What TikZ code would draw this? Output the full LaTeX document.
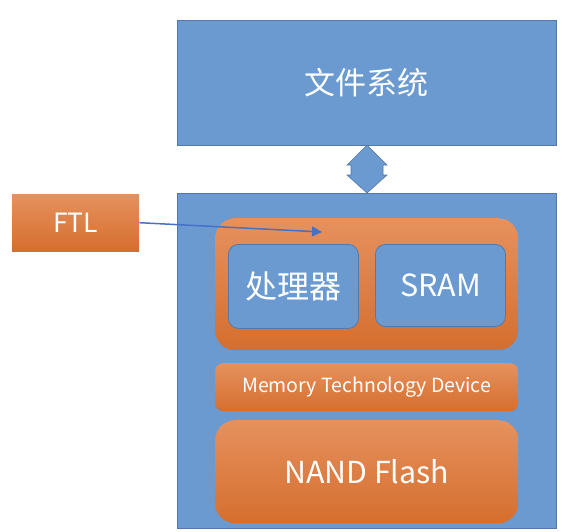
\documentclass[tikz,border=0pt]{standalone}
\usepackage{fontspec}
\setmainfont{Noto Sans CJK SC}
\usetikzlibrary{arrows.meta,shapes.arrows}
\definecolor{bluef}{HTML}{6A9AD0}
\definecolor{blued}{HTML}{5379AA}
\definecolor{orT}{HTML}{E6915E}
\definecolor{orB}{HTML}{D56E2E}
\definecolor{arrowc}{HTML}{4472C4}
\tikzset{
  bluebox/.style={draw=blued, fill=bluef, line width=0.8pt, text=white},
  orbox/.style={top color=orT, bottom color=orB, draw=none, text=white},
}
\begin{document}
\begin{tikzpicture}[x=1pt,y=-1pt]
\useasboundingbox (0,0) rectangle (570,532);
% top box
\node[bluebox, minimum width=379, minimum height=125, anchor=north west, font=\fontsize{31}{34}\selectfont] (fs) at (177,20) {文件系统};
% bottom box
\node[bluebox, minimum width=379, minimum height=335, anchor=north west] (dev) at (177,193) {};
% double arrow
\draw[blued, fill=bluef, line width=0.6pt] (367,145) -- (387,165) -- (383,165) -- (383,175) -- (387,175) -- (367,193) -- (347,175) -- (351,175) -- (351,165) -- (347,165) -- cycle;
\coordinate (dblarrow) at (367,169);
% FTL
\node[orbox, minimum width=127, minimum height=57, anchor=north west, font=\fontsize{26.5}{29}\selectfont] (ftl) at (12,194) {FTL};
% controller
\node[orbox, rounded corners=20, minimum width=303, minimum height=132, anchor=north west] (ctl) at (215,218) {};
\node[bluebox, rounded corners=10, minimum width=130, minimum height=84, anchor=north west, font=\fontsize{32}{35}\selectfont] (cpu) at (228,244) {处理器};
\node[bluebox, rounded corners=10, minimum width=130, minimum height=82, anchor=north west, font=\fontsize{30.5}{33}\selectfont] (sram) at (375,244) {SRAM};
% MTD
\node[orbox, rounded corners=8, minimum width=303, minimum height=48, anchor=north west, font=\fontsize{19.5}{22}\selectfont] (mtd) at (215,363) {Memory Technology Device};
% NAND
\node[orbox, rounded corners=20, minimum width=303, minimum height=103, anchor=north west, font=\fontsize{30.3}{33}\selectfont] (nand) at (215,420) {NAND Flash};
% FTL arrow
\coordinate (ftltip) at (322,232);
\draw[arrowc, line width=1.5pt, -{Triangle[length=10pt,width=10pt]}] (ftl.east) -- (ftltip);
\end{tikzpicture}
\end{document}
